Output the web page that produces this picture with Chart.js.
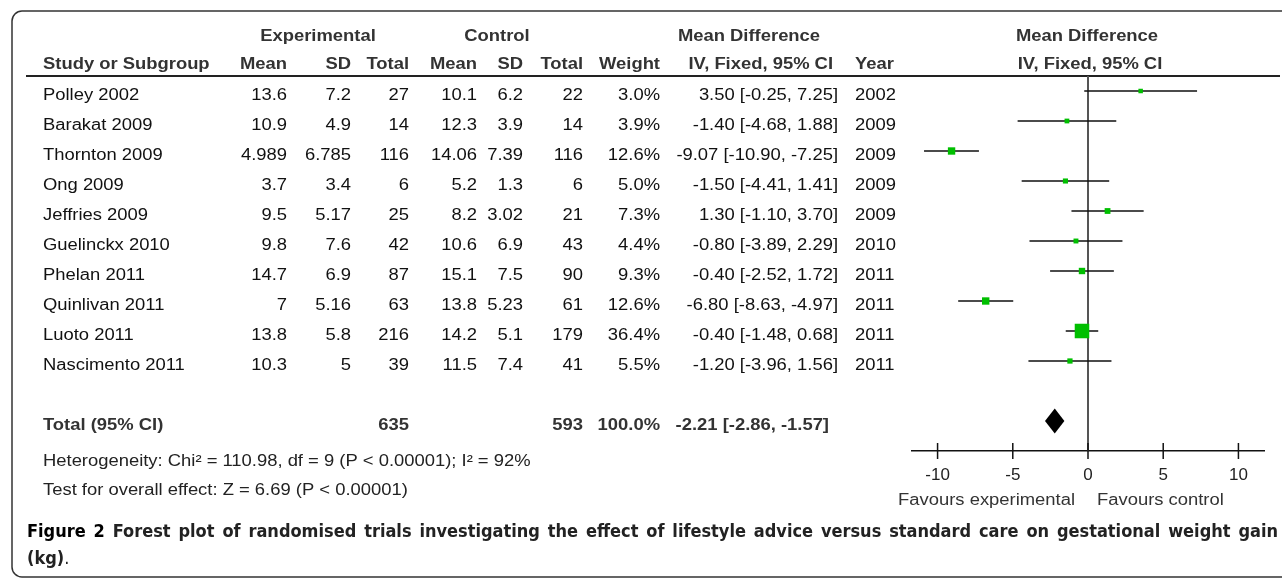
<!DOCTYPE html>
<html>
<head>
<meta charset="utf-8">
<script src="https://cdn.jsdelivr.net/npm/chart.js@4.4.1/dist/chart.umd.min.js"></script>
<style>
  html, body { margin: 0; padding: 0; background: #fff; }
  #wrap { width: 1282px; height: 579px; }
</style>
</head>
<body>
<div id="wrap"><canvas id="forest" width="1282" height="579"></canvas></div>
<script>
// Datos del forest plot
const studies = ['Polley 2002', 'Barakat 2009', 'Thornton 2009', 'Ong 2009', 'Jeffries 2009',
                 'Guelinckx 2010', 'Phelan 2011', 'Quinlivan 2011', 'Luoto 2011', 'Nascimento 2011'];
const expMean = [13.6, 10.9, 4.989, 3.7, 9.5, 9.8, 14.7, 7, 13.8, 10.3];
const expSD = [7.2, 4.9, 6.785, 3.4, 5.17, 7.6, 6.9, 5.16, 5.8, 5];
const expTotal = [27, 14, 116, 6, 25, 42, 87, 63, 216, 39];
const ctlMean = [10.1, 12.3, 14.06, 5.2, 8.2, 10.6, 15.1, 13.8, 14.2, 11.5];
const ctlSD = [6.2, 3.9, 7.39, 1.3, 3.02, 6.9, 7.5, 5.23, 5.1, 7.4];
const ctlTotal = [22, 14, 116, 6, 21, 43, 90, 61, 179, 41];
const weights = [3.0, 3.9, 12.6, 5.0, 7.3, 4.4, 9.3, 12.6, 36.4, 5.5];
const meanDiff = [3.50, -1.40, -9.07, -1.50, 1.30, -0.80, -0.40, -6.80, -0.40, -1.20];
const ciLow = [-0.25, -4.68, -10.90, -4.41, -1.10, -3.89, -2.52, -8.63, -1.48, -3.96];
const ciHigh = [7.25, 1.88, -7.25, 1.41, 3.70, 2.29, 1.72, -4.97, 0.68, 1.56];
const years = [2002, 2009, 2009, 2009, 2009, 2010, 2011, 2011, 2011, 2011];
const totalExp = 635, totalCtl = 593;
const totalMD = -2.21, totalLow = -2.86, totalHigh = -1.57;
const xTicks = [-10, -5, 0, 5, 10];

const heterogeneity = 'Heterogeneity: Chi\u00b2 = 110.98, df = 9 (P < 0.00001); I\u00b2 = 92%';
const overall = 'Test for overall effect: Z = 6.69 (P < 0.00001)';
const caption = 'Figure 2 Forest plot of randomised trials investigating the effect of lifestyle advice versus standard care on gestational weight gain';

const FONT = "'Liberation Sans', Arial, sans-serif";
const SX = 1.15; // el texto original está algo estirado en horizontal
const TOTAL_ROW = 11;

function fmt(v, d) { return v.toFixed(d); }
function ciText(m, l, h) { return fmt(m, 2) + ' [' + fmt(l, 2) + ', ' + fmt(h, 2) + ']'; }

function txt(ctx, s, x, y, align, bold, color, size) {
  ctx.save();
  ctx.font = (bold ? 'bold ' : '') + (size || 16) + 'px ' + FONT;
  ctx.fillStyle = color || '#111';
  ctx.textAlign = align;
  ctx.textBaseline = 'middle';
  ctx.translate(x, y);
  ctx.scale(SX, 1);
  ctx.fillText(s, 0, 0);
  ctx.restore();
}

// Intervalos de confianza como segmentos separados por huecos
const ciData = [];
meanDiff.forEach((m, i) => {
  ciData.push({ x: ciLow[i], y: i }, { x: ciHigh[i], y: i }, { x: null, y: null });
});
const squareData = meanDiff.map((m, i) => ({ x: m, y: i }));
const squareRadius = weights.map(w => (3.6 + 0.3 * w) / Math.SQRT2);

const tablePlugin = {
  id: 'tablePlugin',
  beforeDraw(chart) {
    const ctx = chart.ctx;
    // marco redondeado
    ctx.save();
    ctx.strokeStyle = '#333';
    ctx.lineWidth = 1.5;
    ctx.beginPath();
    ctx.roundRect(12, 11, 1300, 566, 10);
    ctx.stroke();
    // línea bajo la cabecera
    ctx.strokeStyle = '#222';
    ctx.lineWidth = 2;
    ctx.beginPath();
    ctx.moveTo(26, chart.chartArea.top);
    ctx.lineTo(1280, chart.chartArea.top);
    ctx.stroke();
    ctx.restore();
  },
  beforeDatasetsDraw(chart) {
    const ctx = chart.ctx, x = chart.scales.x, a = chart.chartArea;
    ctx.save();
    ctx.strokeStyle = '#555';
    ctx.lineWidth = 2;
    ctx.beginPath();
    ctx.moveTo(x.getPixelForValue(0), a.top);
    ctx.lineTo(x.getPixelForValue(0), a.bottom);
    ctx.stroke();
    ctx.restore();
  },
  afterDraw(chart) {
    const ctx = chart.ctx, xs = chart.scales.x, ys = chart.scales.y;
    const a = chart.chartArea;
    const H = '#333';

    // marcas del eje que cruzan la línea
    ctx.save();
    ctx.strokeStyle = '#111';
    ctx.lineWidth = 1.5;
    xs.ticks.forEach(t => {
      const px = xs.getPixelForValue(t.value);
      ctx.beginPath();
      ctx.moveTo(px, a.bottom - 8);
      ctx.lineTo(px, a.bottom + 8);
      ctx.stroke();
    });
    ctx.restore();

    // diamante del total
    const yT = ys.getPixelForValue(TOTAL_ROW);
    ctx.save();
    ctx.fillStyle = '#000';
    ctx.beginPath();
    ctx.moveTo(xs.getPixelForValue(totalLow), yT);
    ctx.lineTo(xs.getPixelForValue(totalMD), yT - 12.5);
    ctx.lineTo(xs.getPixelForValue(totalHigh), yT);
    ctx.lineTo(xs.getPixelForValue(totalMD), yT + 12.5);
    ctx.closePath();
    ctx.fill();
    ctx.restore();

    // cabeceras
    const h1 = 37, h2 = 65;
    txt(ctx, 'Experimental', 318, h1, 'center', true, H);
    txt(ctx, 'Control', 497, h1, 'center', true, H);
    txt(ctx, 'Mean Difference', 749, h1, 'center', true, H);
    txt(ctx, 'Mean Difference', 1087, h1, 'center', true, H);
    txt(ctx, 'Study or Subgroup', 43, h2, 'left', true, H);
    txt(ctx, 'Mean', 287, h2, 'right', true, H);
    txt(ctx, 'SD', 351, h2, 'right', true, H);
    txt(ctx, 'Total', 409, h2, 'right', true, H);
    txt(ctx, 'Mean', 477, h2, 'right', true, H);
    txt(ctx, 'SD', 523, h2, 'right', true, H);
    txt(ctx, 'Total', 583, h2, 'right', true, H);
    txt(ctx, 'Weight', 660, h2, 'right', true, H);
    txt(ctx, 'IV, Fixed, 95% CI', 833, h2, 'right', true, H);
    txt(ctx, 'Year', 855, h2, 'left', true, H);
    txt(ctx, 'IV, Fixed, 95% CI', 1090, h2, 'center', true, H);

    // filas de estudios
    studies.forEach((s, i) => {
      const y = ys.getPixelForValue(i) + 5;
      txt(ctx, s, 43, y, 'left');
      txt(ctx, String(expMean[i]), 287, y, 'right');
      txt(ctx, String(expSD[i]), 351, y, 'right');
      txt(ctx, String(expTotal[i]), 409, y, 'right');
      txt(ctx, String(ctlMean[i]), 477, y, 'right');
      txt(ctx, String(ctlSD[i]), 523, y, 'right');
      txt(ctx, String(ctlTotal[i]), 583, y, 'right');
      txt(ctx, fmt(weights[i], 1) + '%', 660, y, 'right');
      txt(ctx, ciText(meanDiff[i], ciLow[i], ciHigh[i]), 838, y, 'right');
      txt(ctx, String(years[i]), 855, y, 'left');
    });

    // fila total
    const yt = yT + 5;
    txt(ctx, 'Total (95% CI)', 43, yt, 'left', true, H);
    txt(ctx, String(totalExp), 409, yt, 'right', true, H);
    txt(ctx, String(totalCtl), 583, yt, 'right', true, H);
    txt(ctx, '100.0%', 660, yt, 'right', true, H);
    txt(ctx, ciText(totalMD, totalLow, totalHigh), 829, yt, 'right', true, H);

    txt(ctx, heterogeneity, 43, 462, 'left', false, '#222');
    txt(ctx, overall, 43, 491, 'left', false, '#222');
    txt(ctx, 'Favours experimental', 1075, 501, 'right', false, '#333');
    txt(ctx, 'Favours control', 1097, 501, 'left', false, '#333');

    // pie de figura justificado
    ctx.save();
    const capFont = "bold 18px 'DejaVu Sans Condensed', 'Liberation Sans Narrow', " + FONT;
    ctx.font = capFont;
    ctx.textBaseline = 'middle';
    ctx.textAlign = 'left';
    const words = caption.split(' ');
    const left = 27, right = 1278;
    const widths = words.map(w => ctx.measureText(w).width);
    const W = widths.reduce((p, c) => p + c, 0);
    const gaps = words.length - 1;
    const sx = Math.min(1, (right - left - gaps * 4) / W);
    const gap = (right - left - W * sx) / gaps;
    let cx = left;
    words.forEach((w, i) => {
      ctx.save();
      ctx.fillStyle = i < 2 ? '#000' : '#222';
      ctx.translate(cx, 532);
      ctx.scale(sx, 1);
      ctx.fillText(w, 0, 0);
      ctx.restore();
      cx += widths[i] * sx + gap;
    });
    ctx.save();
    ctx.fillStyle = '#222';
    ctx.translate(left, 559);
    ctx.scale(sx, 1);
    ctx.fillText('(kg)', 0, 0);
    const kw = ctx.measureText('(kg)').width;
    ctx.font = "18px 'DejaVu Sans Condensed', 'Liberation Sans Narrow', " + FONT;
    ctx.fillText('.', kw, 0);
    ctx.restore();
    ctx.restore();
  }
};

window.onload = function() {
  const ctx = document.getElementById('forest').getContext('2d');
  window.forestChart = new Chart(ctx, {
    type: 'scatter',
    data: {
      datasets: [{
        label: 'Studies',
        data: squareData,
        pointStyle: 'rect',
        pointRadius: squareRadius,
        pointHoverRadius: squareRadius,
        backgroundColor: '#00bf00',
        borderWidth: 0
      }, {
        type: 'line',
        label: 'CI',
        data: ciData,
        borderColor: '#111',
        borderWidth: 1.5,
        pointRadius: 0,
        spanGaps: false,
        fill: false
      }]
    },
    options: {
      responsive: false,
      animation: false,
      events: [],
      layout: { padding: { left: 912, right: 18, top: 76, bottom: 88 } },
      plugins: { legend: { display: false }, tooltip: { enabled: false } },
      scales: {
        x: {
          type: 'linear',
          min: -11.7,
          max: 11.7,
          afterBuildTicks: s => { s.ticks = xTicks.map(v => ({ value: v })); },
          afterFit: s => { s.height = 40; },
          grid: { display: false, drawTicks: false },
          border: { display: true, color: '#111', width: 1.5 },
          ticks: { padding: 14, color: '#222', font: { family: FONT, size: 17 } }
        },
        y: {
          type: 'linear',
          display: false,
          reverse: true,
          min: -0.5,
          max: 12
        }
      }
    },
    plugins: [tablePlugin]
  });
};
</script>
</body>
</html>
